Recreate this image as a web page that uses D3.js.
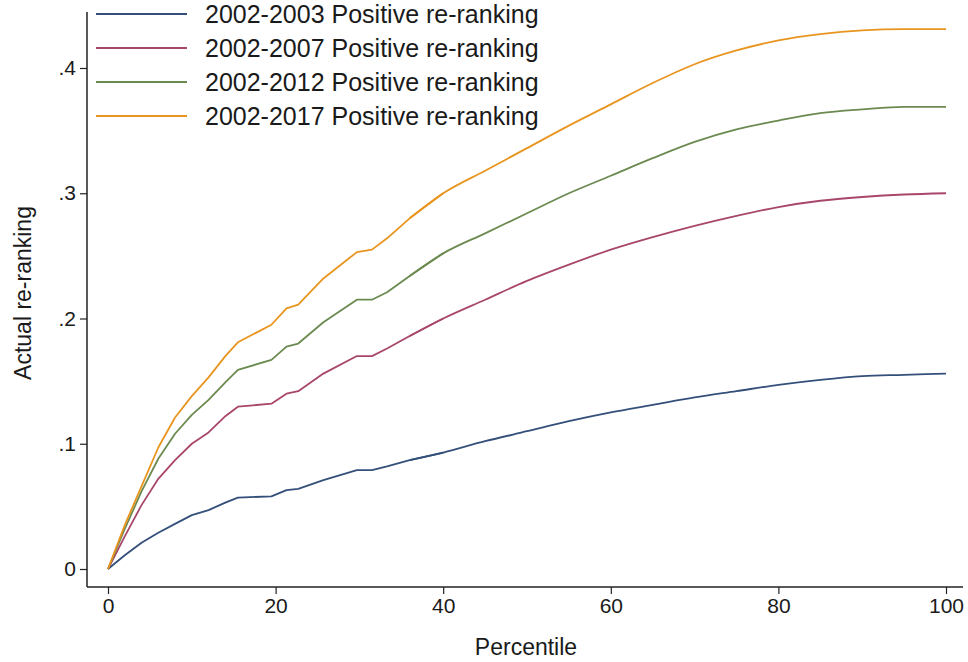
<!DOCTYPE html>
<html>
<head>
<meta charset="utf-8">
<script src="https://cdn.jsdelivr.net/npm/d3@7"></script>
<style>
  html, body { margin: 0; padding: 0; background: #ffffff; }
  svg { display: block; }
  text { font-family: Arial, "Liberation Sans", sans-serif; fill: #1a1a1a; }
</style>
</head>
<body>
<svg id="chart" width="968" height="662"></svg>
<script>
// ---- data ----
const percentiles = [0, 2, 4, 6, 8, 10, 12, 14, 15.5, 19.5, 21.3, 22.7, 25.7, 29.7, 31.5, 33.3, 36, 40, 45, 50, 55, 60, 65, 70, 75, 80, 85, 90, 95, 100];
const seriesNames = ["2002-2003 Positive re-ranking", "2002-2007 Positive re-ranking", "2002-2012 Positive re-ranking", "2002-2017 Positive re-ranking"];
const values2003 = [0, .011, .021, .029, .036, .043, .047, .053, .057, .058, .063, .064, .071, .079, .079, .082, .087, .093, .102, .110, .118, .125, .131, .137, .142, .147, .151, .154, .155, .156];
const values2007 = [0, .026, .051, .072, .087, .100, .109, .122, .1296, .132, .140, .142, .156, .170, .170, .176, .186, .200, .215, .230, .243, .255, .265, .274, .282, .289, .294, .297, .299, .300];
const values2012 = [0, .032, .062, .088, .108, .123, .135, .149, .159, .167, .1775, .180, .197, .215, .215, .221, .234, .252, .268, .284, .300, .314, .328, .341, .351, .358, .364, .367, .369, .369];
const values2017 = [0, .035, .066, .097, .121, .138, .153, .170, .181, .195, .208, .211, .232, .253, .255, .264, .280, .300, .318, .336, .354, .371, .388, .403, .414, .422, .427, .430, .431, .431];
const xTicks = [0, 20, 40, 60, 80, 100];
const yTicks = [0, .1, .2, .3, .4];
const yTickLabels = ["0", ".1", ".2", ".3", ".4"];
const colors = ["#34507a", "#a8466b", "#6b8a50", "#e8951f"];

const allValues = [values2003, values2007, values2012, values2017];

// ---- layout ----
const svg = d3.select("#chart");
const x = d3.scaleLinear().domain([0, 100]).range([108, 946]);
const y = d3.scaleLinear().domain([0, 0.4]).range([569, 68]);
const axisLeftX = 87, axisBottomY = 587, axisTop = 12, axisRight = 963;

// axis lines
svg.append("line").attr("x1", axisLeftX).attr("x2", axisLeftX).attr("y1", axisTop).attr("y2", axisBottomY)
  .attr("stroke", "#222").attr("stroke-width", 1.5);
svg.append("line").attr("x1", axisLeftX).attr("x2", axisRight).attr("y1", axisBottomY).attr("y2", axisBottomY)
  .attr("stroke", "#222").attr("stroke-width", 1.5);

// y axis
const yAxis = d3.axisLeft(y).tickValues(yTicks).tickSize(7).tickPadding(4)
  .tickFormat((d, i) => yTickLabels[i]);
const gy = svg.append("g").attr("transform", `translate(${axisLeftX},0)`).call(yAxis);
gy.select(".domain").remove();
gy.selectAll(".tick line").attr("stroke", "#222").attr("stroke-width", 1.2);
gy.selectAll(".tick text").style("font-size", "21px").style("font-family", "Arial, 'Liberation Sans', sans-serif").attr("fill", "#1a1a1a");

// x axis
const xAxis = d3.axisBottom(x).tickValues(xTicks).tickSize(7).tickPadding(4);
const gx = svg.append("g").attr("transform", `translate(0,${axisBottomY})`).call(xAxis);
gx.select(".domain").remove();
gx.selectAll(".tick line").attr("stroke", "#222").attr("stroke-width", 1.2);
gx.selectAll(".tick text").style("font-size", "21px").style("font-family", "Arial, 'Liberation Sans', sans-serif").attr("fill", "#1a1a1a");

// axis titles
svg.append("text").attr("x", 526).attr("y", 655).attr("text-anchor", "middle")
  .style("font-size", "23px").text("Percentile");
svg.append("text").attr("transform", "translate(31,293) rotate(-90)").attr("text-anchor", "middle")
  .style("font-size", "23px").text("Actual re-ranking");

// lines: jagged (linear) segment up to p=40, smooth beyond
const splitAt = 40;
const jagged = d3.line()
  .defined((d, i) => percentiles[i] <= splitAt)
  .x((d, i) => x(percentiles[i])).y(d => y(d)).curve(d3.curveLinear);
const smooth = d3.line()
  .defined((d, i) => percentiles[i] >= splitAt - 4)
  .x((d, i) => x(percentiles[i])).y(d => y(d)).curve(d3.curveMonotoneX);
allValues.forEach((vals, k) => {
  svg.append("path").datum(vals).attr("d", jagged)
    .attr("fill", "none").attr("stroke", colors[k]).attr("stroke-width", 1.8)
    .attr("stroke-linejoin", "round");
  svg.append("path").datum(vals).attr("d", smooth)
    .attr("fill", "none").attr("stroke", colors[k]).attr("stroke-width", 1.8)
    .attr("stroke-linejoin", "round");
});

// legend
seriesNames.forEach((name, k) => {
  const yy = 14 + 34 * k;
  svg.append("line").attr("x1", 96).attr("x2", 187).attr("y1", yy).attr("y2", yy)
    .attr("stroke", colors[k]).attr("stroke-width", 2);
  svg.append("text").attr("x", 205).attr("y", yy).attr("dy", "0.36em")
    .style("font-size", "25px").text(name);
});
</script>
</body>
</html>
